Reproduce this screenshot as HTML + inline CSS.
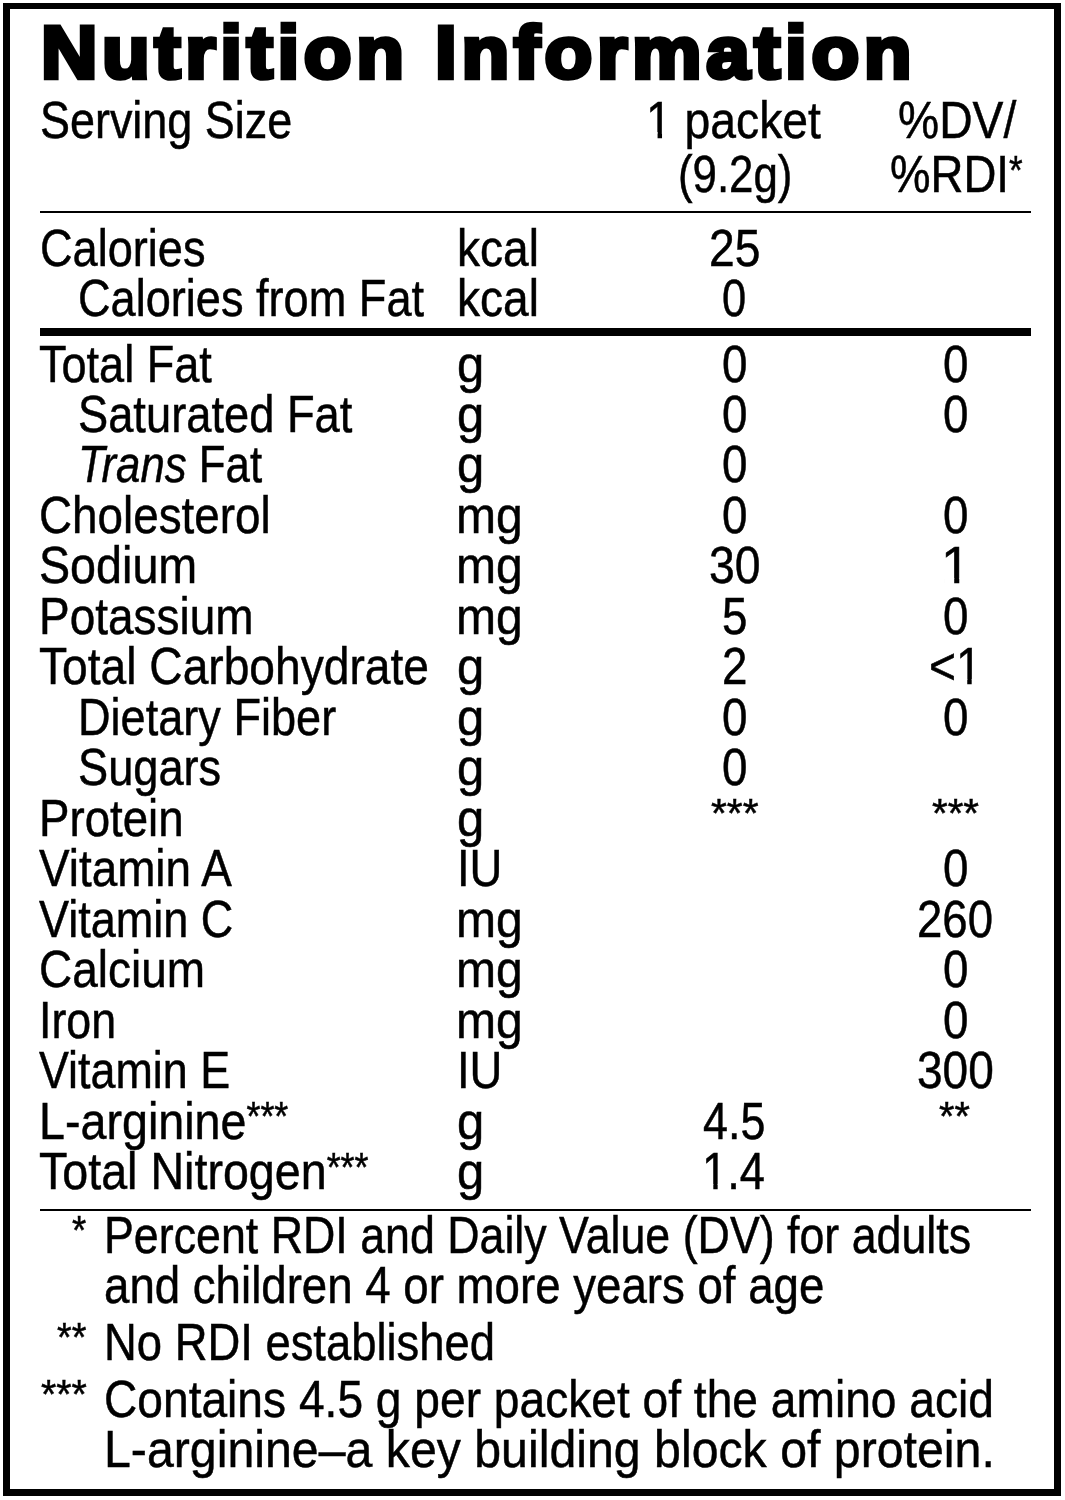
<!DOCTYPE html>
<html lang="en"><head><meta charset="utf-8"><title>Nutrition Information</title>
<style>
html,body{margin:0;padding:0;background:#fff}
.wrap{position:absolute;left:0;top:0;width:1065px;height:1500px;filter:grayscale(1)}
body{width:1065px;height:1500px;position:relative;overflow:hidden;font-family:"Liberation Sans",Arial,Helvetica,sans-serif;color:#000}
.frame{position:absolute;left:3px;top:3px;width:1058px;height:1492.5px;box-sizing:border-box;border:7px solid #000;border-top-width:6.6px}
.rule{position:absolute;left:39.6px;width:991.9px;background:#000}

.t,.lab0,.lab1,.c1,.c2,.ft,.fm{position:absolute;white-space:nowrap;font-size:52px;line-height:60px;height:60px;transform-origin:0 0;-webkit-text-stroke:0.5px #000}
.title{position:absolute;white-space:nowrap;font-weight:bold;font-size:75px;line-height:100px;height:100px;transform-origin:0 0;-webkit-text-stroke:4.6px #000;letter-spacing:4.5px}
.a{font-size:40px;position:relative;top:-8.5px}
.one{position:relative}
.one::before,.one::after{content:'';position:absolute;background:#fff;bottom:0.18em;height:0.14em}
.one::before{left:0.06em;width:0.192em}
.one::after{left:0.339em;width:0.19em}
i{font-style:italic}

</style></head><body>
<div class="wrap">
<div class="frame"></div>
<div class="rule" style="top:211.1px;height:2.2px"></div>
<div class="rule" style="top:328.3px;height:7.7px"></div>
<div class="rule" style="top:1208.6px;height:2.4px"></div>
<div class='title' style='left:41.07px;top:1.80px;transform:scaleX(1.0417)'>Nutrition Information</div>
<div class='t' style='left:40.07px;top:89.90px;transform:scaleX(0.8639)'>Serving Size</div>
<div class='t' style='left:645.75px;top:89.90px;transform:scaleX(0.8901)'><span class="one">1</span> packet</div>
<div class='t' style='left:678.07px;top:143.60px;transform:scaleX(0.8423)'>(9.2g)</div>
<div class='t' style='left:897.82px;top:89.70px;transform:scaleX(0.8901)'>%DV/</div>
<div class='t' style='left:889.85px;top:144.20px;transform:scaleX(0.8758)'>%RDI<span class="a">*</span></div>
<div class='t' style='left:40.06px;top:217.50px;transform:scaleX(0.8679)'>Calories</div>
<div class='t' style='left:457.44px;top:217.60px;transform:scaleX(0.8860)'>kcal</div>
<div class='t' style='left:708.62px;top:217.50px;transform:scaleX(0.8889)'>25</div>
<div class='t' style='left:78.36px;top:268.00px;transform:scaleX(0.8678)'>Calories from Fat</div>
<div class='t' style='left:457.44px;top:268.20px;transform:scaleX(0.8860)'>kcal</div>
<div class='t' style='left:722.33px;top:268.00px;transform:scaleX(0.8360)'>0</div>
<div class='lab0' style='left:39.43px;top:333.50px;transform:scaleX(0.8667)'>Total Fat</div>
<div class='t' style='left:456.52px;top:333.50px;transform:scaleX(0.9417)'>g</div>
<div class='c1' style='left:722.04px;top:333.50px;transform:scaleX(0.8800)'>0</div>
<div class='c2' style='left:943.14px;top:333.50px;transform:scaleX(0.8800)'>0</div>
<div class='lab1' style='left:78.26px;top:383.98px;transform:scaleX(0.8706)'>Saturated Fat</div>
<div class='t' style='left:456.52px;top:383.98px;transform:scaleX(0.9417)'>g</div>
<div class='c1' style='left:722.04px;top:383.98px;transform:scaleX(0.8800)'>0</div>
<div class='c2' style='left:943.14px;top:383.98px;transform:scaleX(0.8800)'>0</div>
<div class='lab1' style='left:78.26px;top:434.46px;transform:scaleX(0.8422)'><i>Trans</i> Fat</div>
<div class='t' style='left:456.52px;top:434.46px;transform:scaleX(0.9417)'>g</div>
<div class='c1' style='left:722.04px;top:434.46px;transform:scaleX(0.8800)'>0</div>
<div class='lab0' style='left:39.27px;top:484.94px;transform:scaleX(0.8809)'>Cholesterol</div>
<div class='t' style='left:456.23px;top:484.94px;transform:scaleX(0.9242)'>mg</div>
<div class='c1' style='left:722.04px;top:484.94px;transform:scaleX(0.8800)'>0</div>
<div class='c2' style='left:943.14px;top:484.94px;transform:scaleX(0.8800)'>0</div>
<div class='lab0' style='left:39.27px;top:535.42px;transform:scaleX(0.8973)'>Sodium</div>
<div class='t' style='left:456.23px;top:535.42px;transform:scaleX(0.9242)'>mg</div>
<div class='c1' style='left:708.72px;top:535.42px;transform:scaleX(0.8907)'>30</div>
<div class='c2' style='left:941.42px;top:535.42px;transform:scaleX(1.0154)'><span class="one">1</span></div>
<div class='lab0' style='left:39.27px;top:585.90px;transform:scaleX(0.8839)'>Potassium</div>
<div class='t' style='left:456.23px;top:585.90px;transform:scaleX(0.9242)'>mg</div>
<div class='c1' style='left:722.04px;top:585.90px;transform:scaleX(0.8800)'>5</div>
<div class='c2' style='left:943.14px;top:585.90px;transform:scaleX(0.8800)'>0</div>
<div class='lab0' style='left:39.01px;top:636.38px;transform:scaleX(0.8876)'>Total Carbohydrate</div>
<div class='t' style='left:456.52px;top:636.38px;transform:scaleX(0.9417)'>g</div>
<div class='c1' style='left:722.04px;top:636.38px;transform:scaleX(0.8800)'>2</div>
<div class='c2' style='left:929.42px;top:636.38px;transform:scaleX(0.8894)'>&lt;<span class="one">1</span></div>
<div class='lab1' style='left:78.26px;top:686.86px;transform:scaleX(0.8675)'>Dietary Fiber</div>
<div class='t' style='left:456.52px;top:686.86px;transform:scaleX(0.9417)'>g</div>
<div class='c1' style='left:722.04px;top:686.86px;transform:scaleX(0.8800)'>0</div>
<div class='c2' style='left:943.14px;top:686.86px;transform:scaleX(0.8800)'>0</div>
<div class='lab1' style='left:78.26px;top:737.34px;transform:scaleX(0.8690)'>Sugars</div>
<div class='t' style='left:456.52px;top:737.34px;transform:scaleX(0.9417)'>g</div>
<div class='c1' style='left:722.04px;top:737.34px;transform:scaleX(0.8800)'>0</div>
<div class='lab0' style='left:39.29px;top:787.82px;transform:scaleX(0.8778)'>Protein</div>
<div class='t' style='left:456.52px;top:787.82px;transform:scaleX(0.9417)'>g</div>
<div class='c1' style='left:710.68px;top:787.82px;transform:scaleX(1.0178)'><span class="a">***</span></div>
<div class='c2' style='left:931.89px;top:787.82px;transform:scaleX(1.0067)'><span class="a">***</span></div>
<div class='lab0' style='left:39.27px;top:838.30px;transform:scaleX(0.8814)'>Vitamin A</div>
<div class='t' style='left:456.91px;top:838.30px;transform:scaleX(0.8727)'>IU</div>
<div class='c2' style='left:943.14px;top:838.30px;transform:scaleX(0.8800)'>0</div>
<div class='lab0' style='left:39.27px;top:888.78px;transform:scaleX(0.8660)'>Vitamin C</div>
<div class='t' style='left:456.23px;top:888.78px;transform:scaleX(0.9242)'>mg</div>
<div class='c2' style='left:916.55px;top:888.78px;transform:scaleX(0.8759)'>260</div>
<div class='lab0' style='left:39.27px;top:939.26px;transform:scaleX(0.8839)'>Calcium</div>
<div class='t' style='left:456.23px;top:939.26px;transform:scaleX(0.9242)'>mg</div>
<div class='c2' style='left:943.14px;top:939.26px;transform:scaleX(0.8800)'>0</div>
<div class='lab0' style='left:39.36px;top:989.74px;transform:scaleX(0.8590)'>Iron</div>
<div class='t' style='left:456.23px;top:989.74px;transform:scaleX(0.9242)'>mg</div>
<div class='c2' style='left:943.14px;top:989.74px;transform:scaleX(0.8800)'>0</div>
<div class='lab0' style='left:39.27px;top:1040.22px;transform:scaleX(0.8624)'>Vitamin E</div>
<div class='t' style='left:456.91px;top:1040.22px;transform:scaleX(0.8727)'>IU</div>
<div class='c2' style='left:916.53px;top:1040.22px;transform:scaleX(0.8843)'>300</div>
<div class='lab0' style='left:39.27px;top:1090.70px;transform:scaleX(0.8969)'>L-arginine<span class="a">***</span></div>
<div class='t' style='left:456.52px;top:1090.70px;transform:scaleX(0.9417)'>g</div>
<div class='c1' style='left:703.44px;top:1090.70px;transform:scaleX(0.8623)'>4.5</div>
<div class='c2' style='left:939.31px;top:1090.70px;transform:scaleX(0.9900)'><span class="a">**</span></div>
<div class='lab0' style='left:39.27px;top:1141.18px;transform:scaleX(0.8965)'>Total Nitrogen<span class="a">***</span></div>
<div class='t' style='left:456.52px;top:1141.18px;transform:scaleX(0.9417)'>g</div>
<div class='c1' style='left:702.05px;top:1141.18px;transform:scaleX(0.8697)'><span class="one">1</span>.4</div>
<div class='fm' style='left:72.49px;top:1204.70px;transform:scaleX(0.9143)'><span class="a">*</span></div>
<div class='ft' style='left:104.26px;top:1204.70px;transform:scaleX(0.8605)'>Percent RDI and Daily Value (DV) for adults</div>
<div class='ft' style='left:103.85px;top:1255.00px;transform:scaleX(0.8775)'>and children 4 or more years of age</div>
<div class='fm' style='left:56.96px;top:1311.80px;transform:scaleX(0.9433)'><span class="a">**</span></div>
<div class='ft' style='left:104.01px;top:1311.80px;transform:scaleX(0.8728)'>No RDI established</div>
<div class='fm' style='left:41.02px;top:1368.60px;transform:scaleX(0.9822)'><span class="a">***</span></div>
<div class='ft' style='left:103.83px;top:1368.60px;transform:scaleX(0.8872)'>Contains 4.5 g per packet of the amino acid</div>
<div class='ft' style='left:103.79px;top:1418.90px;transform:scaleX(0.9282)'>L-arginine&#8211;a key building block of protein.</div>
</div>
</body></html>
